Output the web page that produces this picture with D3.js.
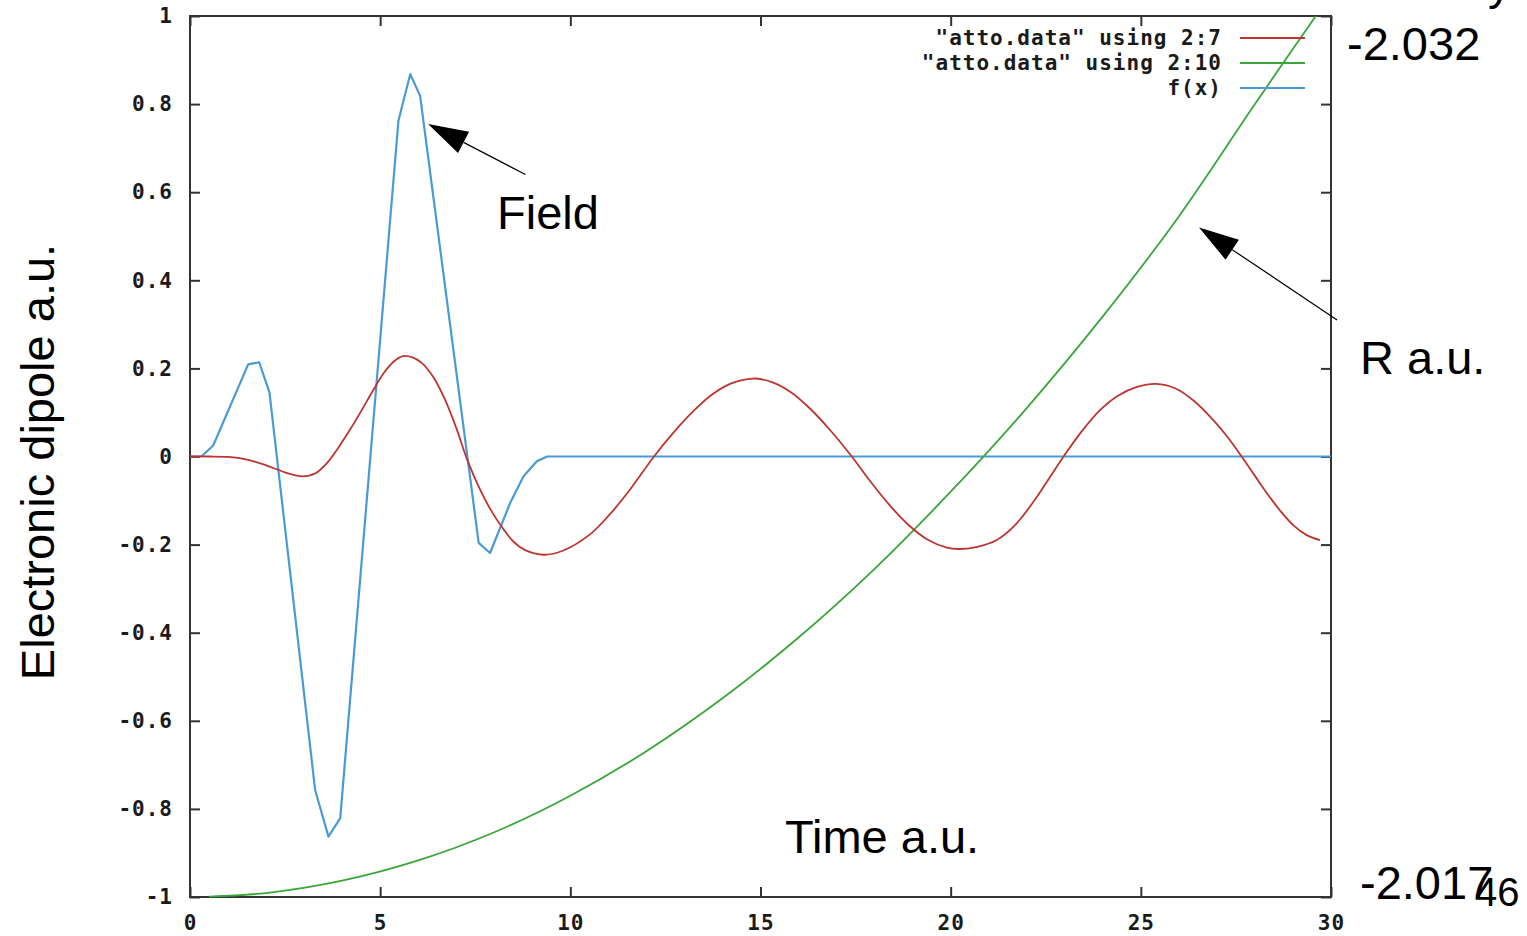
<!DOCTYPE html>
<html>
<head>
<meta charset="utf-8">
<script src="https://cdn.jsdelivr.net/npm/d3@7"></script>
<style>
  body { margin: 0; background: #fff; }
  svg { display: block; }
  .tick text { font-family: "DejaVu Sans Mono", monospace; font-weight: bold; font-size: 21px; fill: #1a1a1a; letter-spacing: 1px; }
  .tick line { stroke: #333; stroke-width: 2px; }
  .big { font-family: "Liberation Sans", Arial, sans-serif; font-size: 47px; fill: #000; }
  .leg { font-family: "DejaVu Sans Mono", monospace; font-weight: bold; font-size: 21px; fill: #1a1a1a; letter-spacing: 1px; }
</style>
</head>
<body>
<svg id="chart" width="1527" height="936"></svg>
<script>
// data

// "atto.data" using 2:7  (electronic dipole)
let dipoleX = [0, 0.5, 1.0, 1.5, 2.0, 2.5, 2.95, 3.3, 3.6, 3.9, 4.2, 4.5, 4.8, 5.1, 5.35, 5.6, 5.85, 6.1, 6.4, 6.7, 7.0, 7.3, 7.6, 7.9, 8.2, 8.5, 8.8, 9.3, 9.8, 10.5, 11.0, 11.5, 12.2, 12.7, 13.2, 13.7, 14.2, 14.8, 15.3, 15.8, 16.3, 16.8, 17.4, 17.9, 18.4, 18.9, 19.4, 19.9, 20.2, 20.7, 21.2, 21.7, 22.2, 22.6, 22.97, 23.4, 23.9, 24.4, 24.9, 25.4, 25.9, 26.4, 26.9, 27.3, 27.65, 28.0, 28.33, 28.7, 29.02, 29.35, 29.71];
let dipoleY = [0, 0, -0.001, -0.007, -0.02, -0.036, -0.045, -0.038, -0.015, 0.02, 0.06, 0.103, 0.148, 0.19, 0.215, 0.228, 0.225, 0.212, 0.18, 0.13, 0.065, -0.01, -0.07, -0.12, -0.16, -0.193, -0.212, -0.223, -0.214, -0.178, -0.135, -0.083, 0, 0.053, 0.1, 0.139, 0.165, 0.177, 0.169, 0.146, 0.109, 0.063, 0, -0.058, -0.111, -0.156, -0.189, -0.207, -0.21, -0.205, -0.19, -0.155, -0.1, -0.048, 0, 0.052, 0.103, 0.138, 0.158, 0.165, 0.155, 0.126, 0.083, 0.042, 0, -0.044, -0.085, -0.127, -0.157, -0.178, -0.19];

// "atto.data" using 2:10  (R, rescaled)
let rX = [0.5, 2, 4, 6, 8, 10, 12, 14, 16, 18, 20, 22, 24, 26, 28, 29.6];
let rY = [-0.999, -0.991, -0.963, -0.917, -0.853, -0.77, -0.669, -0.549, -0.411, -0.255, -0.08, 0.11, 0.318, 0.545, 0.8, 1.0];

// f(x)  (field)
let fieldX = [0, 0.3, 0.61, 1.53, 1.82, 2.09, 3.29, 3.64, 3.95, 5.48, 5.79, 6.05, 7.59, 7.89, 8.42, 8.77, 9.12, 9.39, 30];
let fieldY = [0, 0, 0.025, 0.209, 0.214, 0.145, -0.757, -0.863, -0.821, 0.762, 0.868, 0.819, -0.196, -0.219, -0.105, -0.045, -0.011, 0, 0];

let xTicks = [0, 5, 10, 15, 20, 25, 30];
let yTicks = [-1, -0.8, -0.6, -0.4, -0.2, 0, 0.2, 0.4, 0.6, 0.8, 1];

let legendLabels = ['"atto.data" using 2:7', '"atto.data" using 2:10', 'f(x)'];
let seriesColors = ['#bd3530', '#3aa63a', '#4a9bd4'];

const plotLeft = 190, plotRight = 1331, plotTop = 16, plotBottom = 897;

let svg = d3.select('#chart');

let x = d3.scaleLinear().domain([0, 30]).range([plotLeft, plotRight]);
let y = d3.scaleLinear().domain([-1, 1]).range([plotBottom, plotTop]);

let fmt = d => String(+d.toFixed(1));

// axes, gnuplot style: ticks inside on all four sides
svg.append('g')
    .attr('transform', `translate(${plotLeft},0)`)
    .call(d3.axisLeft(y).tickValues(yTicks).tickSizeInner(-10).tickSizeOuter(0).tickPadding(17).tickFormat(fmt))
    .call(g => g.select('.domain').remove());

svg.append('g')
    .attr('transform', `translate(${plotRight},0)`)
    .call(d3.axisRight(y).tickValues(yTicks).tickSizeInner(-10).tickSizeOuter(0).tickFormat(''))
    .call(g => g.select('.domain').remove());

svg.append('g')
    .attr('transform', `translate(0,${plotBottom})`)
    .call(d3.axisBottom(x).tickValues(xTicks).tickSizeInner(-10).tickSizeOuter(0).tickPadding(18).tickFormat(fmt))
    .call(g => g.select('.domain').remove());

svg.append('g')
    .attr('transform', `translate(0,${plotTop})`)
    .call(d3.axisTop(x).tickValues(xTicks).tickSizeInner(-10).tickSizeOuter(0).tickFormat(''))
    .call(g => g.select('.domain').remove());

svg.append('rect')
    .attr('x', plotLeft).attr('y', plotTop)
    .attr('width', plotRight - plotLeft).attr('height', plotBottom - plotTop)
    .attr('fill', 'none').attr('stroke', '#333').attr('stroke-width', 2);

svg.append('clipPath').attr('id', 'clip')
    .append('rect').attr('x', plotLeft).attr('y', plotTop - 1).attr('width', plotRight - plotLeft).attr('height', plotBottom - plotTop + 2);

let plot = svg.append('g').attr('clip-path', 'url(#clip)');

let smooth = d3.line().x(d => x(d[0])).y(d => y(d[1])).curve(d3.curveCatmullRom);
let straight = d3.line().x(d => x(d[0])).y(d => y(d[1]));

plot.append('path')
    .datum(d3.zip(fieldX, fieldY))
    .attr('d', straight)
    .attr('fill', 'none').attr('stroke', seriesColors[2]).attr('stroke-width', 2.2).attr('stroke-linejoin', 'round');

plot.append('path')
    .datum(d3.zip(rX, rY))
    .attr('d', smooth)
    .attr('fill', 'none').attr('stroke', seriesColors[1]).attr('stroke-width', 1.8);

plot.append('path')
    .datum(d3.zip(dipoleX, dipoleY))
    .attr('d', smooth)
    .attr('fill', 'none').attr('stroke', seriesColors[0]).attr('stroke-width', 1.8);

// legend
let leg = svg.append('g');
legendLabels.forEach((t, i) => {
    let ly = 38 + i * 25;
    leg.append('text').attr('class', 'leg')
        .attr('x', 1222).attr('y', ly).attr('dy', '0.35em')
        .attr('text-anchor', 'end').text(t);
    leg.append('line')
        .attr('x1', 1240).attr('x2', 1305).attr('y1', ly).attr('y2', ly)
        .attr('stroke', seriesColors[i]).attr('stroke-width', 2);
});

// annotations
function arrow(x1, y1, x2, y2) {
    let a = Math.atan2(y2 - y1, x2 - x1);
    let len = 40, half = 12;
    let bx = x2 - len * Math.cos(a), by = y2 - len * Math.sin(a);
    svg.append('line')
        .attr('x1', x1).attr('y1', y1).attr('x2', bx).attr('y2', by)
        .attr('stroke', '#000').attr('stroke-width', 1.2);
    svg.append('path')
        .attr('d', `M${x2},${y2}L${bx - half * Math.sin(a)},${by + half * Math.cos(a)}L${bx + half * Math.sin(a)},${by - half * Math.cos(a)}Z`)
        .attr('fill', '#000');
}

arrow(x(8.82), y(0.64), x(6.26), y(0.755));
arrow(x(30.16), y(0.31), x(26.53), y(0.52));

svg.append('text').attr('class', 'big').attr('x', 497).attr('y', 229).text('Field');
svg.append('text').attr('class', 'big').attr('x', 1360).attr('y', 374).text('R a.u.');
svg.append('text').attr('class', 'big').attr('x', 785).attr('y', 853).text('Time a.u.');
svg.append('text').attr('class', 'big').attr('x', 1347).attr('y', 60).text('-2.032');
svg.append('text').attr('class', 'big').attr('x', 1360).attr('y', 899).text('-2.017');
svg.append('text').attr('class', 'big').attr('x', 1475).attr('y', 906).style('font-size', '40px').text('46');
svg.append('text').attr('class', 'big').attr('x', 1488).attr('y', -1).text('y');
svg.append('text').attr('class', 'big')
    .attr('transform', 'translate(54,462) rotate(-90)')
    .attr('text-anchor', 'middle')
    .text('Electronic dipole a.u.');
</script>
</body>
</html>
